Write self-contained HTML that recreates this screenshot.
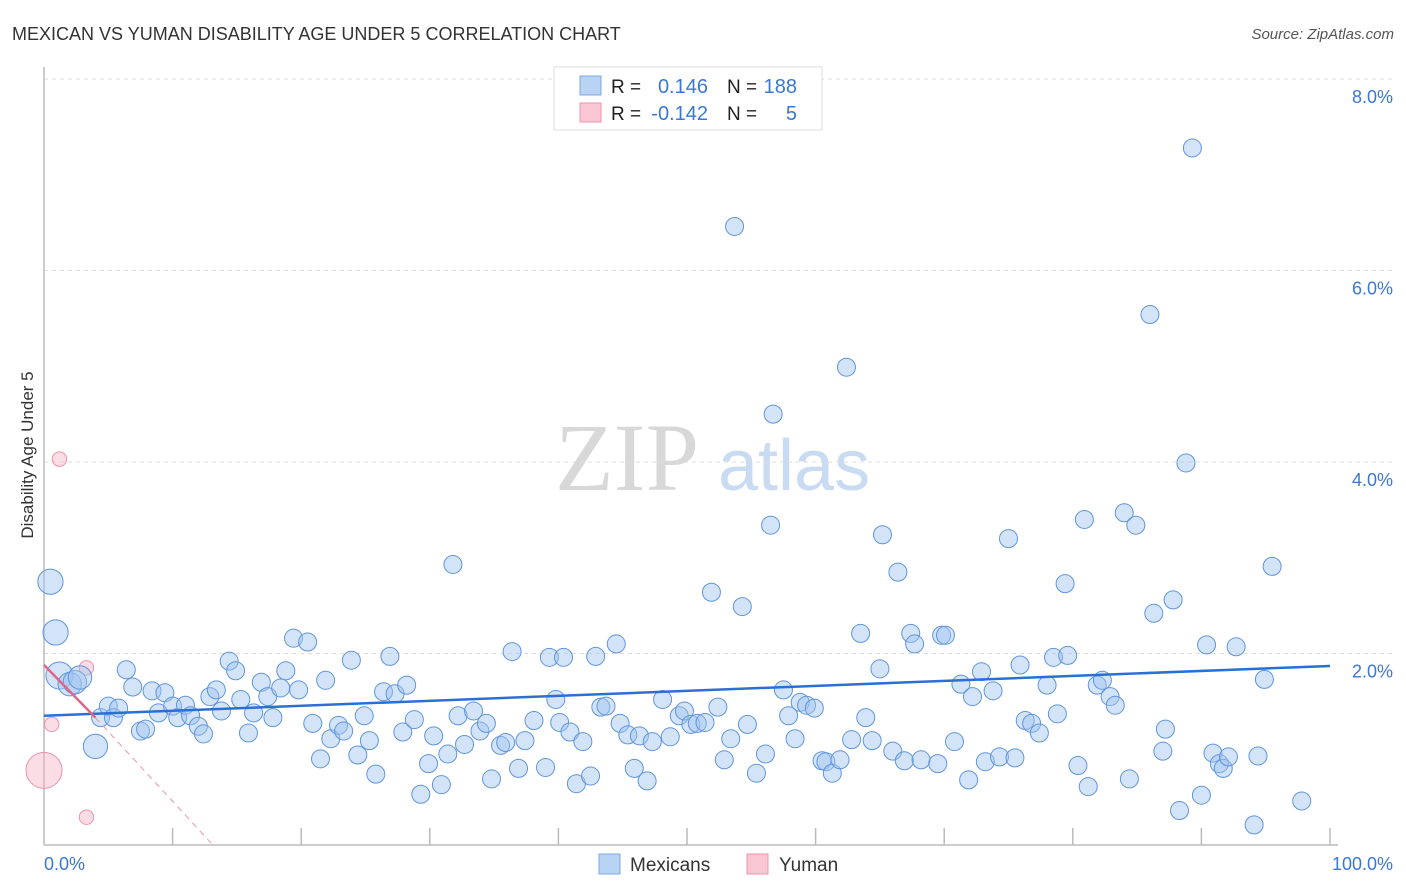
<!DOCTYPE html>
<html><head><meta charset="utf-8">
<style>
body{margin:0;background:#fff;font-family:"Liberation Sans",sans-serif;}
#wrap{position:relative;width:1406px;height:892px;overflow:hidden;}
</style></head>
<body>
<div id="wrap">
<svg id="svg" width="1406" height="892" xmlns="http://www.w3.org/2000/svg">
  <text x="12" y="40" font-size="18" fill="#333">MEXICAN VS YUMAN DISABILITY AGE UNDER 5 CORRELATION CHART</text>
  <text x="1394" y="39" font-size="15" fill="#555" text-anchor="end" font-style="italic">Source: ZipAtlas.com</text>
  <text transform="translate(33,455) rotate(-90)" font-size="17" fill="#333" text-anchor="middle">Disability Age Under 5</text>
  <g>
    <text x="555" y="490" font-family="Liberation Serif,serif" font-size="96" fill="#d8d8d8">ZIP</text>
    <text x="718" y="490" font-size="72" fill="#c8dbf3">atlas</text>
  </g>
  <g id="grid"></g>
  <g id="axes"></g>
  <g id="pts"></g>
  <g id="lines"></g>
  <g>
    <rect x="554" y="67" width="268" height="63" fill="#fff" stroke="#ddd"/>
    <rect x="580" y="76" width="21" height="19" fill="#b9d3f5" stroke="#7aa7e6"/>
    <rect x="580" y="103" width="21" height="19" fill="#f9c6d4" stroke="#eb94ab"/>
    <text x="611" y="93" font-size="19" fill="#222">R =</text>
    <text x="708" y="93" font-size="20" fill="#3a78d4" text-anchor="end">0.146</text>
    <text x="727" y="93" font-size="19" fill="#222">N =</text>
    <text x="797" y="93" font-size="20" fill="#3a78d4" text-anchor="end">188</text>
    <text x="611" y="120" font-size="19" fill="#222">R =</text>
    <text x="708" y="120" font-size="20" fill="#3a78d4" text-anchor="end">-0.142</text>
    <text x="727" y="120" font-size="19" fill="#222">N =</text>
    <text x="797" y="120" font-size="20" fill="#3a78d4" text-anchor="end">5</text>
  </g>
  <g>
    <rect x="599" y="854" width="21" height="20" fill="#b9d3f5" stroke="#7aa7e6"/>
    <text x="630" y="871" font-size="19" fill="#333">Mexicans</text>
    <rect x="747" y="854" width="21" height="20" fill="#f9c6d4" stroke="#eb94ab"/>
    <text x="779" y="871" font-size="19" fill="#333">Yuman</text>
  </g>
</svg>
</div>
<script>
const yTicks=[2,4,6,8];
const yTickLabels=["2.0%","4.0%","6.0%","8.0%"];
const xTicks=[0,10,20,30,40,50,60,70,80,90,100];
const xEndLabels=["0.0%","100.0%"];
const mexX=[0.5,0.9,1.2,2.0,2.4,2.8,4.0,4.4,5.0,5.4,5.8,6.4,6.9,7.5,7.9,8.4,8.9,9.4,10.0,10.4,11.0,11.4,12.0,12.4,12.9,13.4,13.8,14.4,14.9,15.3,15.9,16.3,16.9,17.4,17.8,18.4,18.8,19.4,19.8,20.5,20.9,21.5,21.9,22.3,22.9,23.3,23.9,24.4,24.9,25.3,25.8,26.4,26.9,27.3,27.9,28.2,28.8,29.3,29.9,30.3,30.9,31.4,31.8,32.2,32.7,33.4,33.9,34.4,34.8,35.5,35.9,36.4,36.9,37.4,38.1,39.0,39.3,39.8,40.1,40.4,40.9,41.4,41.9,42.5,42.9,43.3,43.7,44.5,44.8,45.4,45.9,46.3,46.9,47.3,48.1,48.7,49.4,49.8,50.3,50.8,51.4,51.9,52.4,52.9,53.4,53.7,54.3,54.7,55.4,56.1,56.5,56.7,57.5,57.9,58.4,58.8,59.3,59.9,60.5,60.8,61.3,61.9,62.4,62.8,63.5,63.9,64.4,65.0,65.2,66.0,66.4,66.9,67.4,67.7,68.2,69.5,69.8,70.1,70.8,71.3,71.9,72.2,72.9,73.2,73.8,74.3,75.0,75.5,75.9,76.3,76.8,77.4,78.0,78.5,78.8,79.4,79.6,80.4,80.9,81.2,81.9,82.3,82.9,83.3,84.0,84.4,84.9,86.0,86.3,87.2,87.0,87.8,88.3,88.8,89.3,90.0,90.4,90.9,91.4,91.7,92.1,92.7,94.1,94.4,94.9,95.5,97.8];
const mexY=[2.75,2.22,1.77,1.68,1.70,1.75,1.03,1.33,1.45,1.33,1.43,1.83,1.65,1.19,1.21,1.61,1.38,1.59,1.45,1.33,1.46,1.35,1.24,1.16,1.55,1.62,1.40,1.92,1.82,1.52,1.17,1.38,1.70,1.55,1.33,1.64,1.82,2.16,1.62,2.12,1.27,0.90,1.72,1.11,1.25,1.19,1.93,0.94,1.35,1.09,0.74,1.60,1.97,1.58,1.18,1.67,1.31,0.53,0.85,1.14,0.63,0.95,2.93,1.35,1.05,1.40,1.19,1.27,0.69,1.04,1.07,2.02,0.80,1.09,1.30,0.81,1.96,1.52,1.28,1.96,1.18,0.64,1.08,0.72,1.97,1.44,1.45,2.10,1.27,1.15,0.80,1.14,0.67,1.08,1.52,1.13,1.35,1.40,1.26,1.27,1.28,2.64,1.44,0.89,1.11,6.46,2.49,1.26,0.75,0.95,3.34,4.50,1.62,1.35,1.11,1.49,1.46,1.43,0.88,0.87,0.75,0.89,4.99,1.10,2.21,1.33,1.09,1.84,3.24,0.98,2.85,0.88,2.21,2.10,0.89,0.85,2.19,2.19,1.08,1.68,0.68,1.55,1.81,0.87,1.61,0.92,3.20,0.91,1.88,1.30,1.27,1.17,1.67,1.96,1.37,2.73,1.98,0.83,3.40,0.61,1.67,1.72,1.55,1.46,3.47,0.69,3.34,5.54,2.42,1.21,0.98,2.56,0.36,3.99,7.28,0.52,2.09,0.96,0.85,0.80,0.92,2.07,0.21,0.93,1.73,2.91,0.46];
const mexSize=[1.4,1.4,1.5,1.3,1.3,1.3,1.35];
const yumX=[1.2,3.3,0.6,0.0,3.3];
const yumY=[4.03,1.85,1.26,0.78,0.29];
const yumSize=[0.8,0.8,0.8,2.0,0.8];
const mexTrend=[1.35,1.87];
const yumTrend=[1.88,1.33,0.02];
const yumTrendX=[0,4,13];

const NS="http://www.w3.org/2000/svg";
const X0=44,X1=1330,Y0=845,PER=95.75;
function sx(v){return X0+v*(X1-X0)/100;}
function sy(v){return Y0-v*PER;}
function mk(tag,attrs,parent){const e=document.createElementNS(NS,tag);for(const k in attrs)e.setAttribute(k,attrs[k]);parent.appendChild(e);return e;}
const grid=document.getElementById('grid'),axes=document.getElementById('axes'),pts=document.getElementById('pts'),lines=document.getElementById('lines');
yTicks.forEach((t,i)=>{
  const l=mk('line',{x1:X0,x2:1394,y1:sy(t),y2:sy(t),stroke:'#ddd','stroke-dasharray':'4,4'},grid);
  
  
  const tx=mk('text',{x:1393,y:sy(t)+24,'font-size':18,fill:'#3a78d4','text-anchor':'end'},axes);
  tx.textContent=yTickLabels[i];
  
  
});
const ya=mk('line',{x1:X0,x2:X0,y1:67,y2:Y0,stroke:'#bbb','stroke-width':1.5},axes);


const xa=mk('line',{x1:X0,x2:1338,y1:Y0,y2:Y0,stroke:'#bbb','stroke-width':1.5},axes);


xTicks.forEach(t=>{
  if(t===0)return;
  const l=mk('line',{x1:sx(t),x2:sx(t),y1:828,y2:Y0,stroke:'#bbb','stroke-width':1.5},axes);
  
  
});
[[0,'start'],[100,'end']].forEach((p,i)=>{
  const tx=mk('text',{x:i?1393:44,y:870,'font-size':18,fill:'#3a78d4','text-anchor':p[1]},axes);
  tx.textContent=xEndLabels[i];
  
  
});
yumX.forEach((x,i)=>{
  const c=mk('circle',{cx:sx(x),cy:sy(yumY[i]),r:9*yumSize[i],fill:'rgba(247,180,200,0.45)',stroke:'#eb94ab','stroke-width':1},pts);
  
  
});
mexX.forEach((x,i)=>{
  const c=mk('circle',{cx:sx(x),cy:sy(mexY[i]),r:9*(mexSize[i]||1),fill:'rgba(160,196,240,0.45)',stroke:'#5f95dd','stroke-width':1},pts);
  
  
});
const bl=mk('line',{x1:sx(0),y1:sy(mexTrend[0]),x2:sx(100),y2:sy(mexTrend[1]),stroke:'#2a6fd6','stroke-width':2.5},lines);


const pl=mk('line',{x1:sx(yumTrendX[0]),y1:sy(yumTrend[0]),x2:sx(yumTrendX[1]),y2:sy(yumTrend[1]),stroke:'#e0658a','stroke-width':2.5},lines);


const pd=mk('line',{x1:sx(yumTrendX[1]),y1:sy(yumTrend[1]),x2:sx(yumTrendX[2]),y2:sy(yumTrend[2]),stroke:'#eb94ab','stroke-width':1,'stroke-dasharray':'6,5'},lines);


</script>
</body></html>
